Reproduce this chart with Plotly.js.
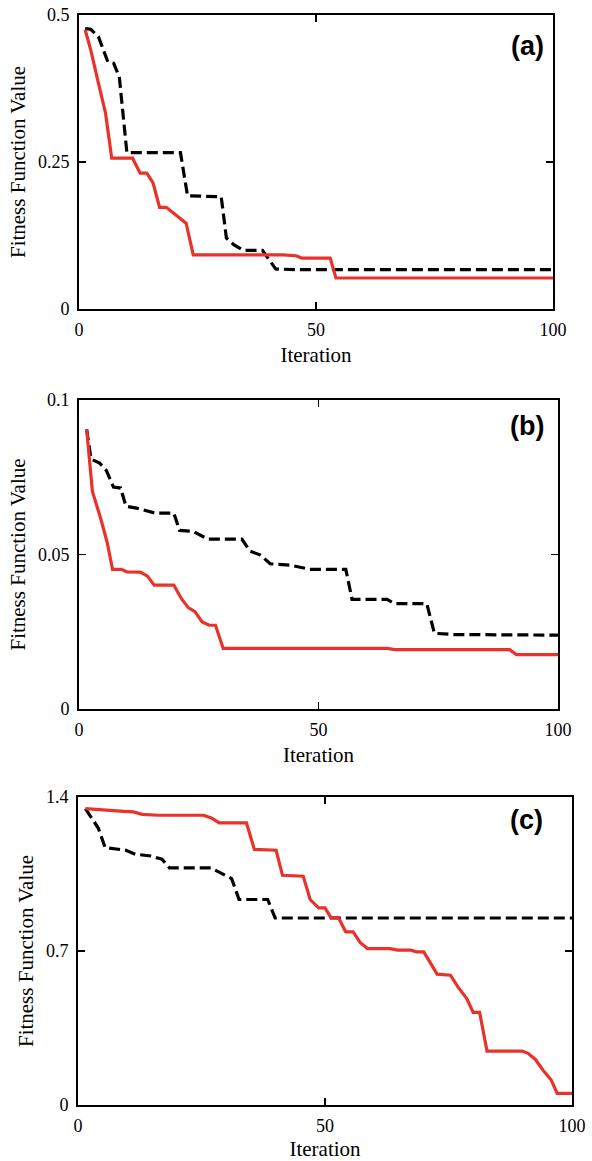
<!DOCTYPE html>
<html>
<head>
<meta charset="utf-8">
<script src="https://cdn.plot.ly/plotly-3.0.1.min.js"></script>
<style>html,body{margin:0;padding:0;background:#fff;}#chart{width:592px;height:1161px;}</style>
</head>
<body>
<div id="chart"></div>
<script>
// Panel (a)
const aRedIter = [1.3, 2.5, 4.1, 5.6, 6.9, 11.3, 12.9, 14.3, 15.6, 17, 18.4, 20, 22.6, 24.1, 43, 45.8, 47, 53, 54.2, 100];
const aRedFit  = [0.475, 0.44, 0.384, 0.333, 0.2565, 0.2565, 0.231, 0.231, 0.215, 0.173, 0.173, 0.163, 0.146, 0.092, 0.092, 0.0906, 0.0866, 0.0866, 0.0527, 0.0527];
const aBlkIter = [1.3, 2.5, 4.1, 6.1, 7.3, 8.5, 10.1, 21.4, 22.9, 30, 31.1, 32.7, 34.7, 38.7, 41.5, 47, 100];
const aBlkFit  = [0.477, 0.4756, 0.463, 0.42, 0.418, 0.395, 0.266, 0.266, 0.1925, 0.191, 0.1206, 0.109, 0.0997, 0.0997, 0.068, 0.0668, 0.0668];

// Panel (b)
const bRedIter = [1.6, 2.8, 4.5, 5.9, 7, 8.8, 10, 12.8, 14.3, 15.7, 19.8, 21.4, 22.8, 24.2, 25.7, 27.2, 28.5, 30.1, 64.3, 65.9, 89.9, 91.3, 100];
const bRedFit  = [0.0905, 0.0704, 0.0618, 0.0538, 0.0452, 0.0452, 0.0444, 0.0443, 0.043, 0.0401, 0.0401, 0.0357, 0.0328, 0.0315, 0.0282, 0.0271, 0.0271, 0.0196, 0.0196, 0.0192, 0.0192, 0.0176, 0.0176];
const bBlkIter = [1.6, 2.5, 4.3, 5.7, 7.2, 8.7, 9.8, 12, 15.9, 19.8, 21, 23.8, 26.9, 34, 35.7, 37.9, 39.9, 44.3, 48.2, 55.7, 57, 64.3, 65.9, 72.6, 74.2, 78.1, 100];
const bBlkFit  = [0.0905, 0.0809, 0.0796, 0.0772, 0.0718, 0.0715, 0.0656, 0.065, 0.0634, 0.0634, 0.0578, 0.0575, 0.055, 0.055, 0.0511, 0.0498, 0.047, 0.0465, 0.0452, 0.0452, 0.0355, 0.0355, 0.0341, 0.0341, 0.0245, 0.0241, 0.0239];

// Panel (c)
const cRedIter = [1.5, 4, 7, 9.3, 11.2, 13, 16.2, 25.4, 27, 28.6, 34.1, 35.7, 40.1, 41.4, 45.6, 47, 48.7, 50, 51.2, 52.7, 54.2, 55.7, 57.1, 58.6, 63.2, 64.7, 67.4, 68.5, 70, 72.7, 75.4, 76.9, 78.7, 80, 81.3, 82.8, 89.9, 91.1, 92.6, 94.1, 95.8, 97, 100];
const cRedFit  = [1.347, 1.344, 1.341, 1.335, 1.332, 1.321, 1.317, 1.317, 1.305, 1.282, 1.282, 1.162, 1.158, 1.044, 1.04, 0.934, 0.896, 0.896, 0.852, 0.852, 0.787, 0.787, 0.739, 0.711, 0.711, 0.704, 0.704, 0.696, 0.696, 0.595, 0.59, 0.537, 0.484, 0.421, 0.421, 0.245, 0.245, 0.235, 0.207, 0.159, 0.1135, 0.053, 0.053];
const cBlkIter = [1.5, 2.8, 4.1, 5.5, 7.8, 9.7, 11.6, 14.7, 17, 18.5, 26.9, 29.2, 31.1, 32.6, 38.4, 39.9, 100];
const cBlkFit  = [1.347, 1.302, 1.259, 1.17, 1.165, 1.158, 1.14, 1.132, 1.117, 1.078, 1.078, 1.052, 1.029, 0.934, 0.934, 0.85, 0.85];

const xTickVals = [0, 50, 100];
const xTickText = ['0', '50', '100'];
const aYTickVals = [0, 0.25, 0.5];
const aYTickText = ['0', '0.25', '0.5'];
const bYTickVals = [0, 0.05, 0.1];
const bYTickText = ['0', '0.05', '0.1'];
const cYTickVals = [0, 0.7, 1.4];
const cYTickText = ['0', '0.7', '1.4'];
const panelLabels = ['(a)', '(b)', '(c)'];
const xTitle = 'Iteration';
const yTitle = 'Fitness Function Value';

const W = 592, H = 1161;
const RED = '#e8322a';
const serif = '"Liberation Serif", "Times New Roman", serif';

function redTrace(x, y, ax) {
  return {x: x, y: y, xaxis: 'x' + ax, yaxis: 'y' + ax, mode: 'lines',
    line: {color: RED, width: 3.2}, hoverinfo: 'skip', showlegend: false};
}
function blkTrace(x, y, ax) {
  return {x: x, y: y, xaxis: 'x' + ax, yaxis: 'y' + ax, mode: 'lines',
    line: {color: '#000', width: 3.2, dash: '11px,5px'}, hoverinfo: 'skip', showlegend: false};
}

const data = [
  blkTrace(aBlkIter, aBlkFit, ''), redTrace(aRedIter, aRedFit, ''),
  blkTrace(bBlkIter, bBlkFit, '2'), redTrace(bRedIter, bRedFit, '2'),
  blkTrace(cBlkIter, cBlkFit, '3'), redTrace(cRedIter, cRedFit, '3')
];

// pixel boxes [left, right, top, bottom]
const boxes = [[79, 553, 15, 309], [79, 558, 400, 709], [78, 572, 797, 1105]];

function xAxis(i, anchor) {
  const b = boxes[i];
  return {domain: [b[0] / W, b[1] / W], anchor: anchor, range: [0, 100],
    tickvals: xTickVals, ticktext: xTickText, ticks: 'inside', ticklen: 7, tickwidth: 1.5,
    tickcolor: '#000', showline: true, linecolor: '#000', linewidth: 2, mirror: 'ticks',
    showgrid: false, zeroline: false, automargin: false, ticklabelstandoff: 3,
    tickfont: {family: serif, size: 18, color: '#000'},
    title: {text: xTitle, font: {family: serif, size: 21, color: '#000'}, standoff: 9}};
}
function yAxis(i, anchor, vals, text, rng) {
  const b = boxes[i];
  return {domain: [1 - b[3] / H, 1 - b[2] / H], anchor: anchor, range: rng,
    tickvals: vals, ticktext: text, ticks: 'inside', ticklen: 7, tickwidth: 1.5,
    tickcolor: '#000', showline: true, linecolor: '#000', linewidth: 2, mirror: 'ticks',
    showgrid: false, zeroline: false, automargin: false, ticklabelstandoff: 4,
    tickfont: {family: serif, size: 18, color: '#000'},
    title: {text: yTitle, font: {family: serif, size: 21, color: '#000'}, standoff: 7}};
}

const labelPos = [[527, 46], [527, 426], [526, 820]];
const annotations = panelLabels.map((t, i) => ({
  text: '<b>' + t + '</b>', xref: 'paper', yref: 'paper',
  x: labelPos[i][0] / W, y: 1 - labelPos[i][1] / H, xanchor: 'center', yanchor: 'middle',
  showarrow: false, font: {family: '"Liberation Sans", Arial, sans-serif', size: 27, color: '#000'}
}));

const layout = {
  width: W, height: H, margin: {l: 0, r: 0, t: 0, b: 0},
  paper_bgcolor: '#fff', plot_bgcolor: '#fff', showlegend: false,
  xaxis: xAxis(0, 'y'), yaxis: yAxis(0, 'x', aYTickVals, aYTickText, [0, 0.5]),
  xaxis2: xAxis(1, 'y2'), yaxis2: yAxis(1, 'x2', bYTickVals, bYTickText, [0, 0.1]),
  xaxis3: xAxis(2, 'y3'), yaxis3: yAxis(2, 'x3', cYTickVals, cYTickText, [0, 1.4]),
  annotations: annotations
};

Plotly.newPlot('chart', data, layout, {staticPlot: true, displayModeBar: false});
</script>
</body>
</html>
